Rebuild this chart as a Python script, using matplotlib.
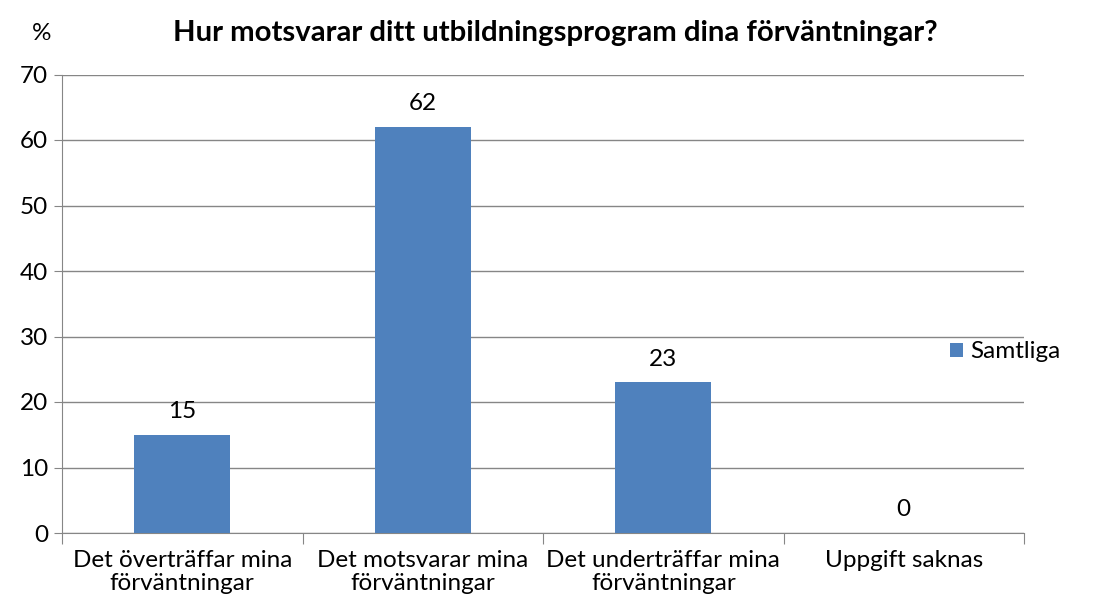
import matplotlib
matplotlib.use("Agg")
import matplotlib.pyplot as plt
import numpy as np

kategorier = ["Det överträffar mina\nförväntningar", "Det motsvarar mina\nförväntningar",
              "Det underträffar mina\nförväntningar", "Uppgift saknas"]
samtliga = [15, 62, 23, 0]

plt.rcParams["font.family"] = ["Lato", "DejaVu Sans"]
grid_c = "#868686"
fs = 17.5

fig = plt.figure(figsize=(11.01, 6.12), dpi=100)
ax = fig.add_axes([62 / 1101, 1 - 533 / 612, (1024 - 62) / 1101, (533 - 74.5) / 612])

x = np.arange(len(kategorier))
bars = ax.bar(x, samtliga, width=0.4, color="#4F81BD", label="Samtliga", zorder=3)
for xi, v in zip(x, samtliga):
    ax.annotate(str(v), (xi, v), xytext=(0, 9), textcoords="offset points",
                ha="center", va="bottom", fontsize=fs)

ax.set_xlim(-0.5, 3.5)
ax.set_ylim(0, 70)
ax.set_yticks(range(0, 71, 10))
ax.yaxis.grid(True, color=grid_c, linewidth=1)
ax.set_axisbelow(True)
for s in ["top", "right"]:
    ax.spines[s].set_visible(False)
for s in ["left", "bottom"]:
    ax.spines[s].set_color(grid_c)
ax.set_xticks([-0.5, 0.5, 1.5, 2.5, 3.5])
ax.set_xticklabels([])
ax.set_xticks(x, minor=True)
ax.set_xticklabels(kategorier, minor=True, fontsize=fs, linespacing=1.12)
ax.tick_params(axis="x", which="major", length=8, color=grid_c)
ax.tick_params(axis="x", which="minor", length=0, pad=12)
ax.tick_params(axis="y", length=6, color=grid_c, labelsize=fs, pad=4)

fig.text(42 / 1101, 1 - 33 / 612, "%", fontsize=fs, ha="center", va="center")
fig.text(555 / 1101, 1 - 33 / 612, "Hur motsvarar ditt utbildningsprogram dina förväntningar?",
         fontsize=21.2, fontweight="bold", ha="center", va="center")
fig.legend(handles=[bars], loc="center left", bbox_to_anchor=(950 / 1101, 1 - 352 / 612),
           frameon=False, fontsize=fs, handlelength=0.55, handleheight=0.55, handletextpad=0.3,
           borderaxespad=0, borderpad=0)

fig.savefig("out.png", dpi=100)
